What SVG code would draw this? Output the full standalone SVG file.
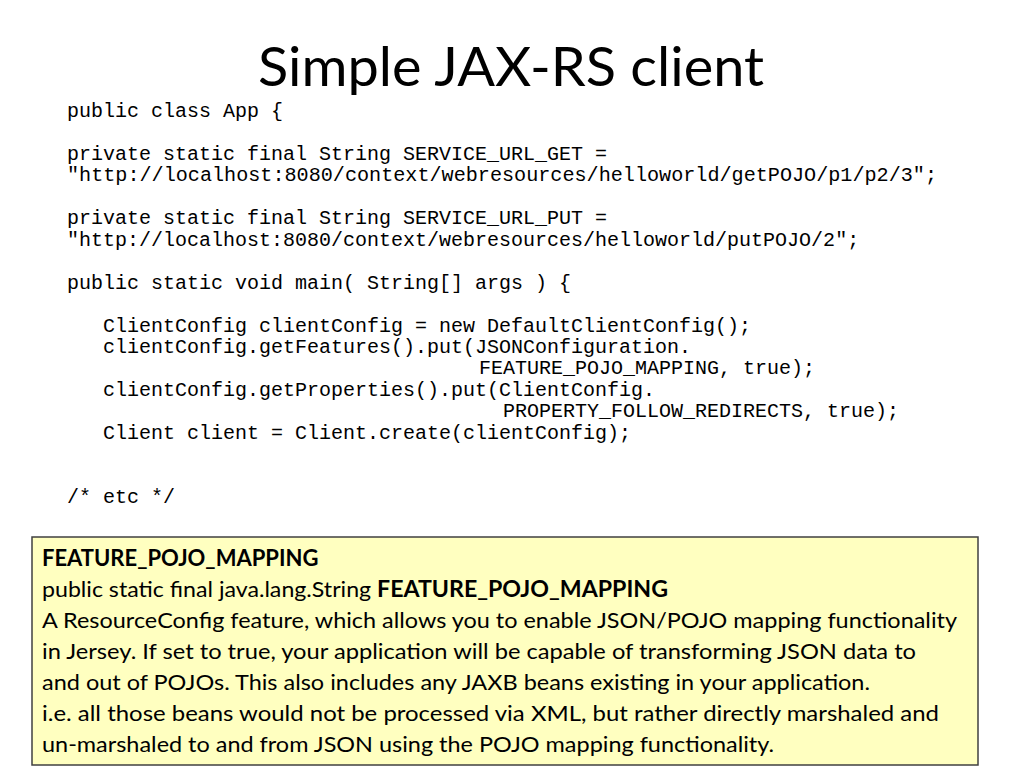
<svg xmlns="http://www.w3.org/2000/svg" width="1024" height="768" viewBox="0 0 1024 768">
<style>
.c{font-family:"Liberation Mono","Courier New",monospace;font-size:20px;fill:#000}
.b{font-family:Lato,"Open Sans","Liberation Sans",sans-serif;font-size:22px;fill:#000}
.bold{font-weight:bold}
</style>
<rect width="1024" height="768" fill="#fff"/>
<text x="511" y="86" text-anchor="middle" font-family="Lato,'Open Sans','Liberation Sans',sans-serif" font-size="54" textLength="506" lengthAdjust="spacingAndGlyphs">Simple JAX-RS client</text>
<g id="code">
<text class="c" x="67" y="117">public class App {</text>
<text class="c" x="67" y="160">private static final String SERVICE_URL_GET =</text>
<text class="c" x="67" y="181" textLength="870" lengthAdjust="spacingAndGlyphs">"http://localhost:8080/context/webresources/helloworld/getPOJO/p1/p2/3";</text>
<text class="c" x="67" y="224">private static final String SERVICE_URL_PUT =</text>
<text class="c" x="67" y="246">"http://localhost:8080/context/webresources/helloworld/putPOJO/2";</text>
<text class="c" x="67" y="289">public static void main( String[] args ) {</text>
<text class="c" x="103" y="332">ClientConfig clientConfig = new DefaultClientConfig();</text>
<text class="c" x="103" y="353">clientConfig.getFeatures().put(JSONConfiguration.</text>
<text class="c" x="479" y="374">FEATURE_POJO_MAPPING, true);</text>
<text class="c" x="103" y="396">clientConfig.getProperties().put(ClientConfig.</text>
<text class="c" x="503" y="417">PROPERTY_FOLLOW_REDIRECTS, true);</text>
<text class="c" x="103" y="439">Client client = Client.create(clientConfig);</text>
<text class="c" x="67" y="503">/* etc */</text>
</g>
<g id="note">
<rect x="32" y="537" width="946" height="228" fill="#FFFFC0" stroke="#404040" stroke-width="1.5"/>
<text class="b bold" x="42" y="566">FEATURE_POJO_MAPPING</text>
<text class="b" x="42" y="597" textLength="626" lengthAdjust="spacingAndGlyphs">public static final java.lang.String <tspan class="bold">FEATURE_POJO_MAPPING</tspan></text>
<text class="b" x="42" y="628" textLength="915" lengthAdjust="spacingAndGlyphs">A ResourceConfig feature, which allows you to enable JSON/POJO mapping functionality</text>
<text class="b" x="42" y="659" textLength="874" lengthAdjust="spacingAndGlyphs">in Jersey. If set to true, your application will be capable of transforming JSON data to</text>
<text class="b" x="42" y="690" textLength="828" lengthAdjust="spacingAndGlyphs">and out of POJOs. This also includes any JAXB beans existing in your application.</text>
<text class="b" x="42" y="721" textLength="897" lengthAdjust="spacingAndGlyphs">i.e. all those beans would not be processed via XML, but rather directly marshaled and</text>
<text class="b" x="42" y="752" textLength="732" lengthAdjust="spacingAndGlyphs">un-marshaled to and from JSON using the POJO mapping functionality.</text>
</g>
</svg>
